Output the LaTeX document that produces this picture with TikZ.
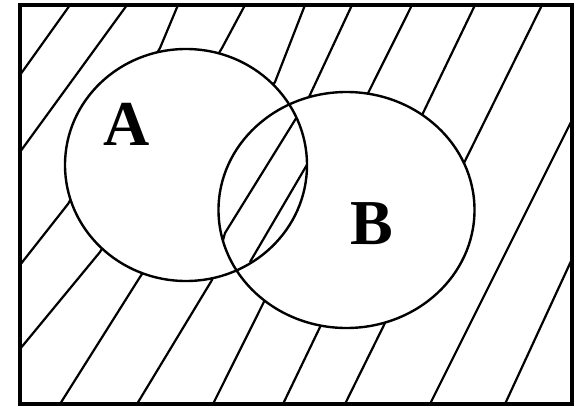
\documentclass[tikz,border=0pt]{standalone}
\usepackage{fontspec}
\setmainfont{Liberation Serif}

\begin{document}
\begin{tikzpicture}[x=1pt,y=-1pt,
    hatch/.style={line width=2.2pt},
    outline/.style={line width=2.4pt},
    setlabel/.style={font=\fontsize{64}{64}\selectfont\bfseries, inner sep=0pt}]
    \useasboundingbox (0,0) rectangle (577,407);

    % --- (A \cap B) \cup (A \cup B)^c ---
    % Path definitions for the frame and the two sets
    \def\frameU{(20,5) rectangle (572,404)}
    \def\circleA{(186,165) ellipse [x radius=121pt, y radius=116pt]}
    \def\circleB{(346.5,210) ellipse [x radius=128pt, y radius=118pt]}

    % Even odd rule keeps the outside and the lens
    \begin{scope}[even odd rule]
        \clip \frameU \circleA \circleB;
        \draw[hatch] (20,75) -- (70,5);
        \draw[hatch] (20,152) -- (127,5);
        \draw[hatch] (20,265) -- (68,204) -- (160,48) -- (178,5);
        \draw[hatch] (20,349) -- (100,252) -- (222,48) -- (245,5);
        \draw[hatch] (60,404) -- (140,277) -- (275,82) -- (305,5);
        \draw[hatch] (137,404) -- (212,280) -- (225,233) -- (295,120) -- (309,97) -- (352,5);
        \draw[hatch] (213,404) -- (412,5);
        \draw[hatch] (283,404) -- (475,5);
        \draw[hatch] (345,404) -- (542,5);
        \draw[hatch] (430,404) -- (572,120);
        \draw[hatch] (505,404) -- (572,259);
        \draw[hatch] (250,262) -- (308,163);
    \end{scope}

    % Draw Outlines
    \draw[outline] \circleA;
    \draw[outline] \circleB;
    \draw[line width=3.2pt] \frameU;
    \node[setlabel] (labA) at (127,124) {A};
    \node[setlabel] (labB) at (372,224) {B};
\end{tikzpicture}
\end{document}
